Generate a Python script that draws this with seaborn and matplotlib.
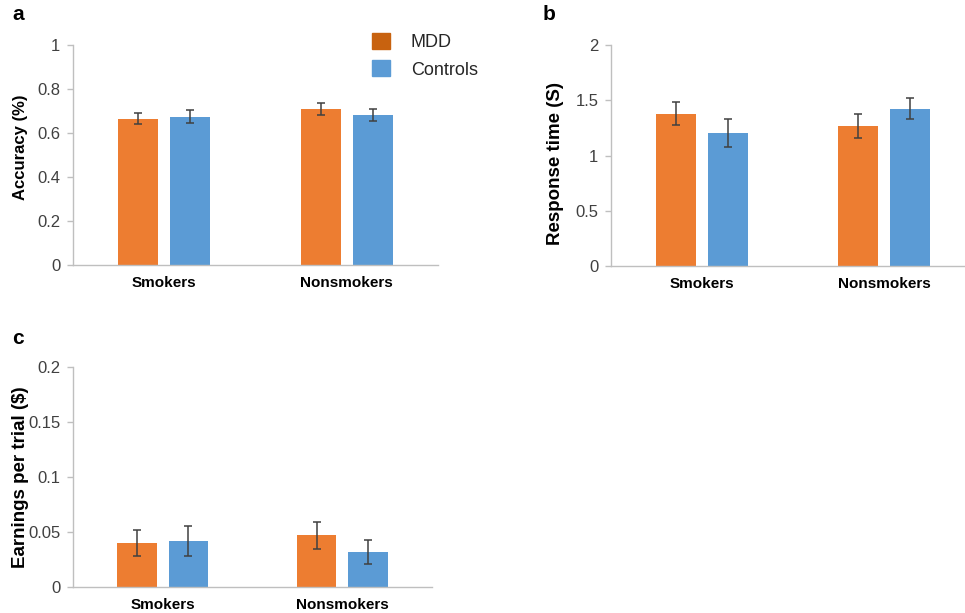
import pandas as pd
import matplotlib
matplotlib.use("Agg")
import matplotlib.pyplot as plt
import matplotlib.patches as mpatches
import seaborn as sns

groups = ["Smokers", "Nonsmokers"]
conditions = ["MDD", "Controls"]

accuracy_mdd = [0.664, 0.708]
accuracy_ctl = [0.674, 0.681]
accuracy_err_mdd = [0.025, 0.027]
accuracy_err_ctl = [0.030, 0.026]

rt_mdd = [1.376, 1.268]
rt_ctl = [1.202, 1.425]
rt_err_mdd = [0.104, 0.107]
rt_err_ctl = [0.125, 0.095]

earn_mdd = [0.0400, 0.0469]
earn_ctl = [0.0418, 0.0320]
earn_err_mdd = [0.0120, 0.0120]
earn_err_ctl = [0.0140, 0.0107]

bar_colors = {"MDD": "#ED7D31", "Controls": "#5B9BD5"}
legend_colors = {"MDD": "#C8620F", "Controls": "#5B9BD5"}
axis_gray = "#BFBFBF"
text_gray = "#404040"

sns.set_theme(style="white")
plt.rcParams["font.family"] = ["Liberation Sans", "DejaVu Sans"]

W, H = 965, 613


def make_frame(mdd, ctl):
    rows = []
    for g, v in zip(groups, mdd):
        rows.append({"group": g, "cond": "MDD", "value": v})
    for g, v in zip(groups, ctl):
        rows.append({"group": g, "cond": "Controls", "value": v})
    return pd.DataFrame(rows)


def panel(ax, mdd, ctl, err_mdd, err_ctl, ymax, ticks, ticklabels, ylabel,
          label_dx, label_dy, label_size):
    df = make_frame(mdd, ctl)
    sns.barplot(data=df, x="group", y="value", hue="cond", order=groups,
                hue_order=conditions, palette=bar_colors, width=0.572,
                gap=0.23, legend=False, ax=ax, saturation=1, linewidth=0)
    # error bars on top of the bars, ordered by x position
    bars = sorted(ax.patches, key=lambda p: p.get_x())
    errs = [err_mdd[0], err_ctl[0], err_mdd[1], err_ctl[1]]
    for p, e in zip(bars, errs):
        ax.errorbar(p.get_x() + p.get_width() / 2, p.get_height(), yerr=e,
                    fmt="none", ecolor="#404040", elinewidth=1.1,
                    capsize=2.7, capthick=1.1)
    ax.set_xlim(-0.5, 1.5)
    ax.set_ylim(0, ymax)
    ax.set_yticks(ticks)
    ax.set_yticklabels(ticklabels)
    ax.set_xlabel("")
    ax.set_ylabel(ylabel, fontsize=label_size, fontweight="bold", color="black")
    # label centre at a fixed pixel offset from the axis
    pos = ax.get_position()
    ax.yaxis.set_label_coords(label_dx / (pos.width * W), 0.5 + label_dy / (pos.height * H))
    ax.yaxis.label.set_va("center")
    for s in ["top", "right"]:
        ax.spines[s].set_visible(False)
    for s in ["left", "bottom"]:
        ax.spines[s].set_color(axis_gray)
        ax.spines[s].set_linewidth(1)
    ax.tick_params(axis="y", left=True, length=4, width=1, color=axis_gray,
                   labelsize=12, labelcolor=text_gray, pad=5)
    ax.tick_params(axis="x", bottom=False, length=0, pad=8)
    for lbl in ax.get_xticklabels():
        lbl.set_fontweight("bold")
        lbl.set_fontsize(11)
        lbl.set_color("black")


fig = plt.figure(figsize=(9.65, 6.13), dpi=100)


def add_axes(left, right, top, bottom):
    return fig.add_axes([left / W, 1 - bottom / H, (right - left) / W, (bottom - top) / H])


ax_a = add_axes(73, 438, 45, 265)
ax_b = add_axes(611, 975, 45, 266)
ax_c = add_axes(73, 432, 367, 587)

panel(ax_a, accuracy_mdd, accuracy_ctl, accuracy_err_mdd, accuracy_err_ctl,
      1, [0, 0.2, 0.4, 0.6, 0.8, 1], ["0", "0.2", "0.4", "0.6", "0.8", "1"],
      "Accuracy (%)", -53, 8, 12)
panel(ax_b, rt_mdd, rt_ctl, rt_err_mdd, rt_err_ctl,
      2, [0, 0.5, 1, 1.5, 2], ["0", "0.5", "1", "1.5", "2"],
      "Response time (S)", -55, -8, 13.5)
panel(ax_c, earn_mdd, earn_ctl, earn_err_mdd, earn_err_ctl,
      0.2, [0, 0.05, 0.1, 0.15, 0.2], ["0", "0.05", "0.1", "0.15", "0.2"],
      "Earnings per trial ($)", -52, 0, 13.5)

handles = [mpatches.Patch(color=legend_colors[c], label=c) for c in conditions]
fig.legend(handles=handles, loc="upper left", bbox_to_anchor=(372 / W, 1 - 33 / H),
           bbox_transform=fig.transFigure, frameon=False, fontsize=13,
           handlelength=1.0, handleheight=1.0, handletextpad=1.15,
           labelspacing=0.5, borderpad=0, borderaxespad=0)

for letter, x, y in [("a", 12, 14), ("b", 543, 14), ("c", 12, 338)]:
    fig.text(x / W, 1 - y / H, letter, fontsize=15, fontweight="bold",
             va="center", ha="left", color="black")

fig.savefig("out.png", dpi=100)
